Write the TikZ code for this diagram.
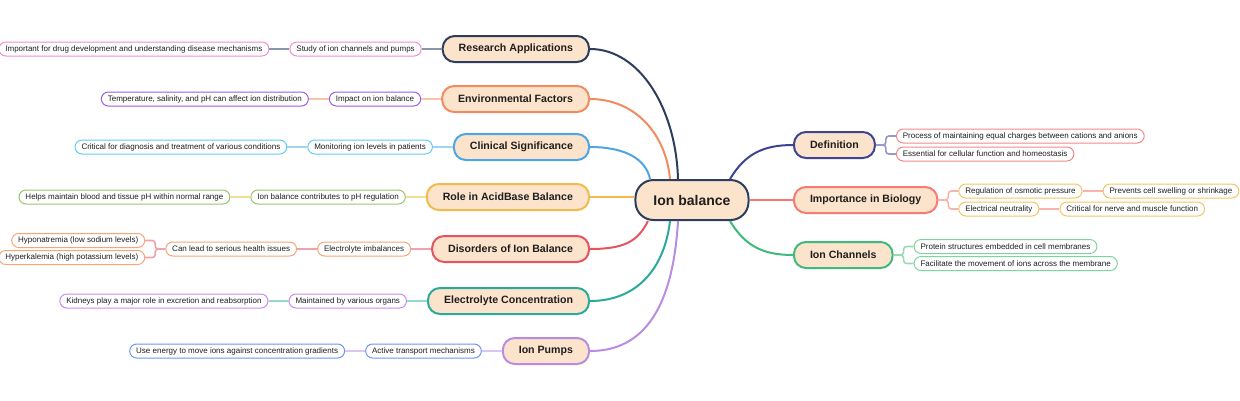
\documentclass[tikz,border=0pt]{standalone}
\usepackage{fontspec}
\setmainfont{Liberation Sans}
\usepackage{tikz}
\usetikzlibrary{positioning}
\definecolor{ink}{HTML}{1E1E1E}
\definecolor{peach}{HTML}{FCE4CC}
\definecolor{navy}{HTML}{2C3E5C}
\definecolor{envo}{HTML}{F28C5E}
\definecolor{clin}{HTML}{4DA6E3}
\definecolor{acid}{HTML}{F2BA4A}
\definecolor{dis}{HTML}{E5545F}
\definecolor{elec}{HTML}{2BA99B}
\definecolor{pump}{HTML}{B98CE3}
\definecolor{defi}{HTML}{3E4392}
\definecolor{bio}{HTML}{F57B74}
\definecolor{chan}{HTML}{3FBA7C}
\definecolor{ralf}{HTML}{F28DC9}
\definecolor{eflf}{HTML}{9A5BE6}
\definecolor{cslf}{HTML}{5ECCF4}
\definecolor{ablf}{HTML}{97C56B}
\definecolor{dilf}{HTML}{F6A678}
\definecolor{eclf}{HTML}{C98AF0}
\definecolor{iplf}{HTML}{6B96F7}
\definecolor{delf}{HTML}{F08A89}
\definecolor{iblf}{HTML}{F7C462}
\definecolor{iclf}{HTML}{7FD49D}
\definecolor{ralk}{HTML}{8896AD}
\definecolor{eflk}{HTML}{F7C3A9}
\definecolor{cslk}{HTML}{A3D3F3}
\definecolor{ablk}{HTML}{F4DC94}
\definecolor{dilk}{HTML}{EFA3AA}
\definecolor{eclk}{HTML}{94D8D0}
\definecolor{iplk}{HTML}{DCC7F4}
\definecolor{delk}{HTML}{9899C8}
\definecolor{iblk}{HTML}{F8B3AF}
\definecolor{iclk}{HTML}{98DAB4}
\tikzset{
    root/.style={
           rectangle,
           rounded corners=18pt,
           draw=navy, line width=2pt,
           fill=peach,
           minimum height=40pt,
           inner xsep=18pt,
           text=ink,
           font=\fontsize{14}{16}\selectfont\bfseries,
           },
    topic/.style={
           rectangle,
           rounded corners=12pt,
           line width=2pt,
           fill=peach,
           minimum height=26pt,
           inner xsep=16pt, inner ysep=0pt,
           text=ink,
           font=\fontsize{10.6}{12}\selectfont\bfseries,
           },
    leaf/.style={
           rectangle,
           rounded corners=7pt,
           line width=1pt,
           fill=white,
           minimum height=14pt,
           inner xsep=6.5pt, inner ysep=0pt,
           text=ink,
           font=\fontsize{8}{9}\selectfont,
           },
    branch/.style={line width=2pt},
    twig/.style={line width=1.6pt},
}

\begin{document}
\begin{tikzpicture}[x=1pt, y=-1pt, node distance=20pt]
  \useasboundingbox (0,0) rectangle (1240,400);
  \node[root] (root) at (692,200) {Ion balance};
  % left branches
  \node[topic, draw=navy, anchor=east] (ra) at (590,49)  {Research Applications};
  \node[topic, draw=envo, anchor=east] (ef) at (590,99)  {Environmental Factors};
  \node[topic, draw=clin, anchor=east] (cs) at (590,147) {Clinical Significance};
  \node[topic, draw=acid, anchor=east] (ab) at (590,197) {Role in AcidBase Balance};
  \node[topic, draw=dis,  anchor=east] (di) at (590,249) {Disorders of Ion Balance};
  \node[topic, draw=elec, anchor=east] (ec) at (590,301) {Electrolyte Concentration};
  \node[topic, draw=pump, anchor=east] (ip) at (590,351) {Ion Pumps};
  % right branches
  \node[topic, draw=defi, anchor=west] (de) at (793,145) {Definition};
  \node[topic, draw=bio,  anchor=west] (ib) at (793,200) {Importance in Biology};
  \node[topic, draw=chan, anchor=west] (ic) at (793,255) {Ion Channels};

  \node[leaf, draw=ralf, left=of ra]  (ra1) {Study of ion channels and pumps};
  \node[leaf, draw=ralf, left=of ra1] (ra2) {Important for drug development and understanding disease mechanisms};
  \node[leaf, draw=eflf, left=of ef]  (ef1) {Impact on ion balance};
  \node[leaf, draw=eflf, left=of ef1] (ef2) {Temperature, salinity, and pH can affect ion distribution};
  \node[leaf, draw=cslf, left=of cs]  (cs1) {Monitoring ion levels in patients};
  \node[leaf, draw=cslf, left=of cs1] (cs2) {Critical for diagnosis and treatment of various conditions};
  \node[leaf, draw=ablf, left=of ab]  (ab1) {Ion balance contributes to pH regulation};
  \node[leaf, draw=ablf, left=of ab1] (ab2) {Helps maintain blood and tissue pH within normal range};
  \node[leaf, draw=dilf, left=of di]  (di1) {Electrolyte imbalances};
  \node[leaf, draw=dilf, left=of di1] (di2) {Can lead to serious health issues};
  \node[leaf, draw=dilf, anchor=east] (di3) at ([xshift=-20pt,yshift=8.5pt]di2.west)  {Hyponatremia (low sodium levels)};
  \node[leaf, draw=dilf, anchor=east] (di4) at ([xshift=-20pt,yshift=-8.5pt]di2.west) {Hyperkalemia (high potassium levels)};
  \node[leaf, draw=eclf, left=of ec]  (ec1) {Maintained by various organs};
  \node[leaf, draw=eclf, left=of ec1] (ec2) {Kidneys play a major role in excretion and reabsorption};
  \node[leaf, draw=iplf, left=of ip]  (ip1) {Active transport mechanisms};
  \node[leaf, draw=iplf, left=of ip1] (ip2) {Use energy to move ions against concentration gradients};

  \node[leaf, draw=delf, anchor=west] (de1) at ([xshift=20pt,yshift=9pt]de.east)  {Process of maintaining equal charges between cations and anions};
  \node[leaf, draw=delf, anchor=west] (de2) at ([xshift=20pt,yshift=-9pt]de.east) {Essential for cellular function and homeostasis};
  \node[leaf, draw=iblf, anchor=west] (ib1) at ([xshift=20pt,yshift=9pt]ib.east)  {Regulation of osmotic pressure};
  \node[leaf, draw=iblf, right=of ib1] (ib3) {Prevents cell swelling or shrinkage};
  \node[leaf, draw=iblf, anchor=west] (ib2) at ([xshift=20pt,yshift=-9pt]ib.east) {Electrical neutrality};
  \node[leaf, draw=iblf, right=of ib2] (ib4) {Critical for nerve and muscle function};
  \node[leaf, draw=iclf, anchor=west] (ic1) at ([xshift=20pt,yshift=8.5pt]ic.east)  {Protein structures embedded in cell membranes};
  \node[leaf, draw=iclf, anchor=west] (ic2) at ([xshift=20pt,yshift=-8.5pt]ic.east) {Facilitate the movement of ions across the membrane};

  % main curves
  \draw[branch, navy] ([xshift=-14pt]root.north) .. controls +(-2,-70) and +(50,0) .. (ra.east);
  \draw[branch, envo] ([xshift=-22pt]root.north) .. controls +(-4,-45) and +(45,0) .. (ef.east);
  \draw[branch, clin] ([xshift=-42pt]root.north) .. controls +(-4,-20) and +(35,0) .. (cs.east);
  \draw[branch, acid] ([yshift=3pt]root.west) -- (ab.east);
  \draw[branch, dis]  ([xshift=-44pt]root.south) .. controls +(-10,20) and +(35,0) .. (di.east);
  \draw[branch, elec] ([xshift=-22pt]root.south) .. controls +(-6,50) and +(45,0) .. (ec.east);
  \draw[branch, pump] ([xshift=-14pt]root.south) .. controls +(-5,85) and +(55,0) .. (ip.east);
  \draw[branch, defi] ([xshift=38pt]root.north) .. controls +(15,-25) and +(-30,0) .. (de.west);
  \draw[branch, bio]  (root.east) -- (ib.west);
  \draw[branch, chan] ([xshift=38pt]root.south) .. controls +(15,25) and +(-30,0) .. (ic.west);

  % leaf links
  \draw[twig, ralk] (ra.west) -- (ra1.east);
  \draw[twig, ralk] (ra1.west) -- (ra2.east);
  \draw[twig, eflk] (ef.west) -- (ef1.east);
  \draw[twig, eflk] (ef1.west) -- (ef2.east);
  \draw[twig, cslk] (cs.west) -- (cs1.east);
  \draw[twig, cslk] (cs1.west) -- (cs2.east);
  \draw[twig, ablk] (ab.west) -- (ab1.east);
  \draw[twig, ablk] (ab1.west) -- (ab2.east);
  \draw[twig, dilk] (di.west) -- (di1.east);
  \draw[twig, dilk] (di1.west) -- (di2.east);
  \draw[twig, dilk, rounded corners=3pt] (di2.west) -- ++(-10,0) |- (di3.east);
  \draw[twig, dilk, rounded corners=3pt] (di2.west) -- ++(-10,0) |- (di4.east);
  \draw[twig, eclk] (ec.west) -- (ec1.east);
  \draw[twig, eclk] (ec1.west) -- (ec2.east);
  \draw[twig, iplk] (ip.west) -- (ip1.east);
  \draw[twig, iplk] (ip1.west) -- (ip2.east);
  \draw[twig, delk, rounded corners=3pt] (de.east) -- ++(10,0) |- (de1.west);
  \draw[twig, delk, rounded corners=3pt] (de.east) -- ++(10,0) |- (de2.west);
  \draw[twig, iblk, rounded corners=3pt] (ib.east) -- ++(10,0) |- (ib1.west);
  \draw[twig, iblk, rounded corners=3pt] (ib.east) -- ++(10,0) |- (ib2.west);
  \draw[twig, iblk] (ib1.east) -- (ib3.west);
  \draw[twig, iblk] (ib2.east) -- (ib4.west);
  \draw[twig, iclk, rounded corners=3pt] (ic.east) -- ++(10,0) |- (ic1.west);
  \draw[twig, iclk, rounded corners=3pt] (ic.east) -- ++(10,0) |- (ic2.west);
\end{tikzpicture}
\end{document}
